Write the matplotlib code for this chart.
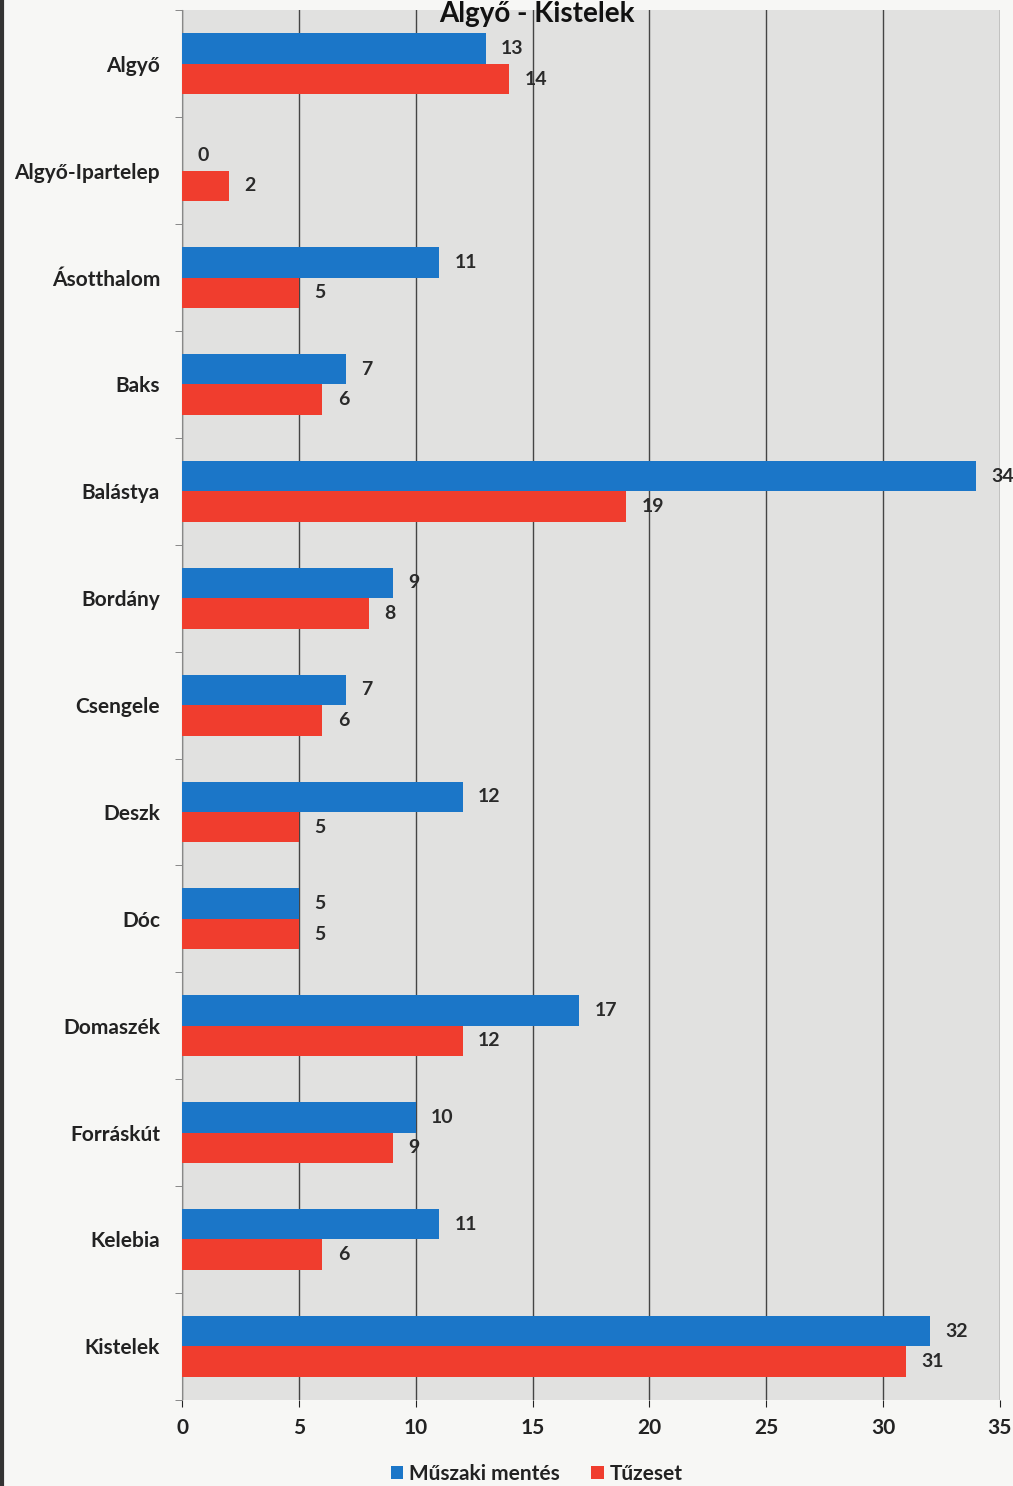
import matplotlib.pyplot as plt
import numpy as np

plt.rcParams['font.family'] = ['Lato', 'DejaVu Sans']

places = ["Algyő", "Algyő-Ipartelep", "Ásotthalom", "Baks", "Balástya", "Bordány",
          "Csengele", "Deszk", "Dóc", "Domaszék", "Forráskút", "Kelebia", "Kistelek"]
muszaki = [13, 0, 11, 7, 34, 9, 7, 12, 5, 17, 10, 11, 32]
tuzeset = [14, 2, 5, 6, 19, 8, 6, 5, 5, 12, 9, 6, 31]

blue = '#1b76c8'
red = '#f03d2e'

fig = plt.figure(figsize=(10.13, 14.86), dpi=100, facecolor='#f7f7f5')
ax = fig.add_axes([0.180, 0.058, 0.807, 0.935])
ax.set_facecolor('#e1e1e0')

y = np.arange(len(places))
h = 0.285
ax.barh(y - h / 2, muszaki, height=h, color=blue, label='Műszaki mentés', zorder=3)
ax.barh(y + h / 2, tuzeset, height=h, color=red, label='Tűzeset', zorder=3)

for i in range(len(places)):
    ax.annotate(str(muszaki[i]), (muszaki[i], y[i] - h / 2), xytext=(11, 0),
                textcoords='offset points', va='center', ha='left',
                fontsize=14, fontweight='bold', color='#2a2a2a', annotation_clip=False)
    ax.annotate(str(tuzeset[i]), (tuzeset[i], y[i] + h / 2), xytext=(11, 0),
                textcoords='offset points', va='center', ha='left',
                fontsize=14, fontweight='bold', color='#2a2a2a', annotation_clip=False)

ax.set_xlim(0, 35)
ax.set_ylim(len(places) - 0.5, -0.5)
ax.set_xticks(range(0, 36, 5))
ax.set_yticks(y)
ax.set_yticklabels(places, fontsize=15, fontweight='bold', color='#222222')
ax.tick_params(axis='x', labelsize=15, colors='#222222', length=5, pad=8)
ax.tick_params(axis='y', length=0, pad=16)
for lab in ax.get_xticklabels():
    lab.set_fontweight('bold')
ax.set_yticks(np.arange(-0.5, len(places), 1), minor=True)
ax.tick_params(axis='y', which='minor', length=5, color='#777777')
ax.grid(axis='x', color='#444444', linewidth=1.0, zorder=0)
for s in ['top', 'right', 'bottom']:
    ax.spines[s].set_visible(False)
ax.spines['left'].set_color('#888888')

fig.text(0.53, 0.9995, 'Algyő - Kistelek', ha='center', va='top',
         fontsize=20, fontweight='bold', color='#111111')

leg = fig.legend(loc='lower center', bbox_to_anchor=(0.53, -0.011), ncol=2,
                 frameon=False, fontsize=15, handlelength=0.6, handleheight=0.6,
                 handletextpad=0.3, columnspacing=1.5)
for t in leg.get_texts():
    t.set_fontweight('bold')
    t.set_color('#222222')

fig.add_artist(plt.Line2D([0.002, 0.002], [0, 1], color='#333333', linewidth=3))

fig.savefig('out.png', dpi=100, facecolor=fig.get_facecolor())
